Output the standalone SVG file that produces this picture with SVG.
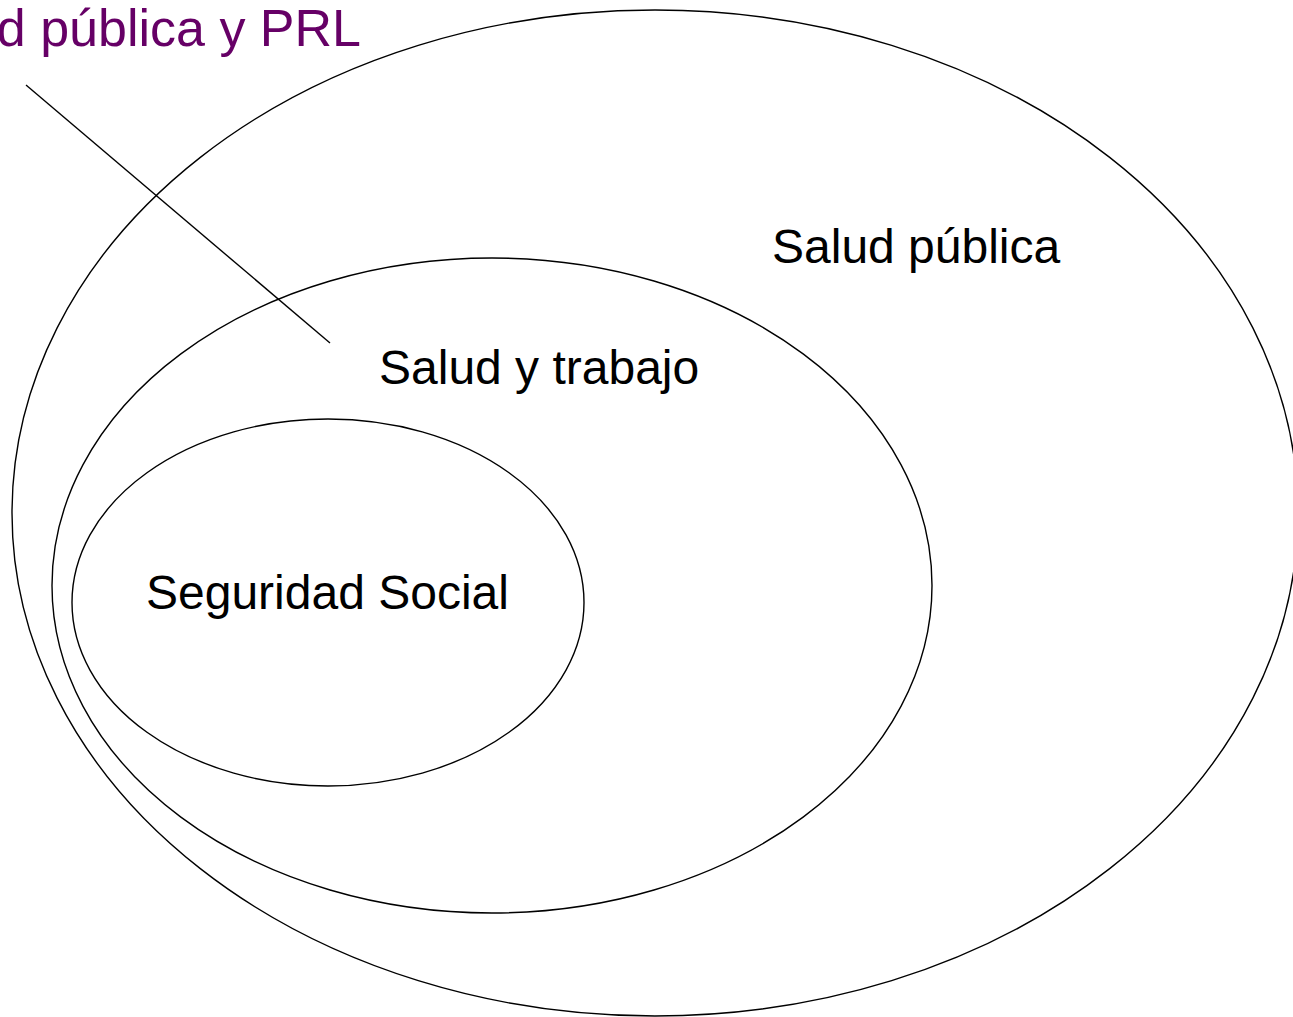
<svg xmlns="http://www.w3.org/2000/svg" width="1293" height="1017" viewBox="0 0 1293 1017">
<style>
.ring{fill:none;stroke:#000;stroke-width:1.4}
.lbl{font-family:"Liberation Sans",Arial,sans-serif;font-size:48px;fill:#000}
.title{font-family:"Liberation Sans",Arial,sans-serif;font-size:52px;fill:#660066}
</style>
<rect width="1293" height="1017" fill="#fff"/>
<g id="title"><text class="title" x="361" y="46" text-anchor="end">d pública y PRL</text></g>
<g id="salud-publica">
<ellipse class="ring" cx="655" cy="513" rx="643" ry="503"/>
<text class="lbl" x="772" y="263">Salud pública</text>
</g>
<g id="salud-trabajo">
<ellipse class="ring" cx="492" cy="585.5" rx="440" ry="327.5"/>
<text class="lbl" x="379" y="384">Salud y trabajo</text>
</g>
<g id="seguridad-social">
<ellipse class="ring" cx="328" cy="602.5" rx="256" ry="183.5"/>
<text class="lbl" x="146" y="609">Seguridad Social</text>
</g>
<g id="connectors">
<line x1="26" y1="85" x2="330" y2="343" stroke="#000" stroke-width="1.4"/>
</g>
</svg>
